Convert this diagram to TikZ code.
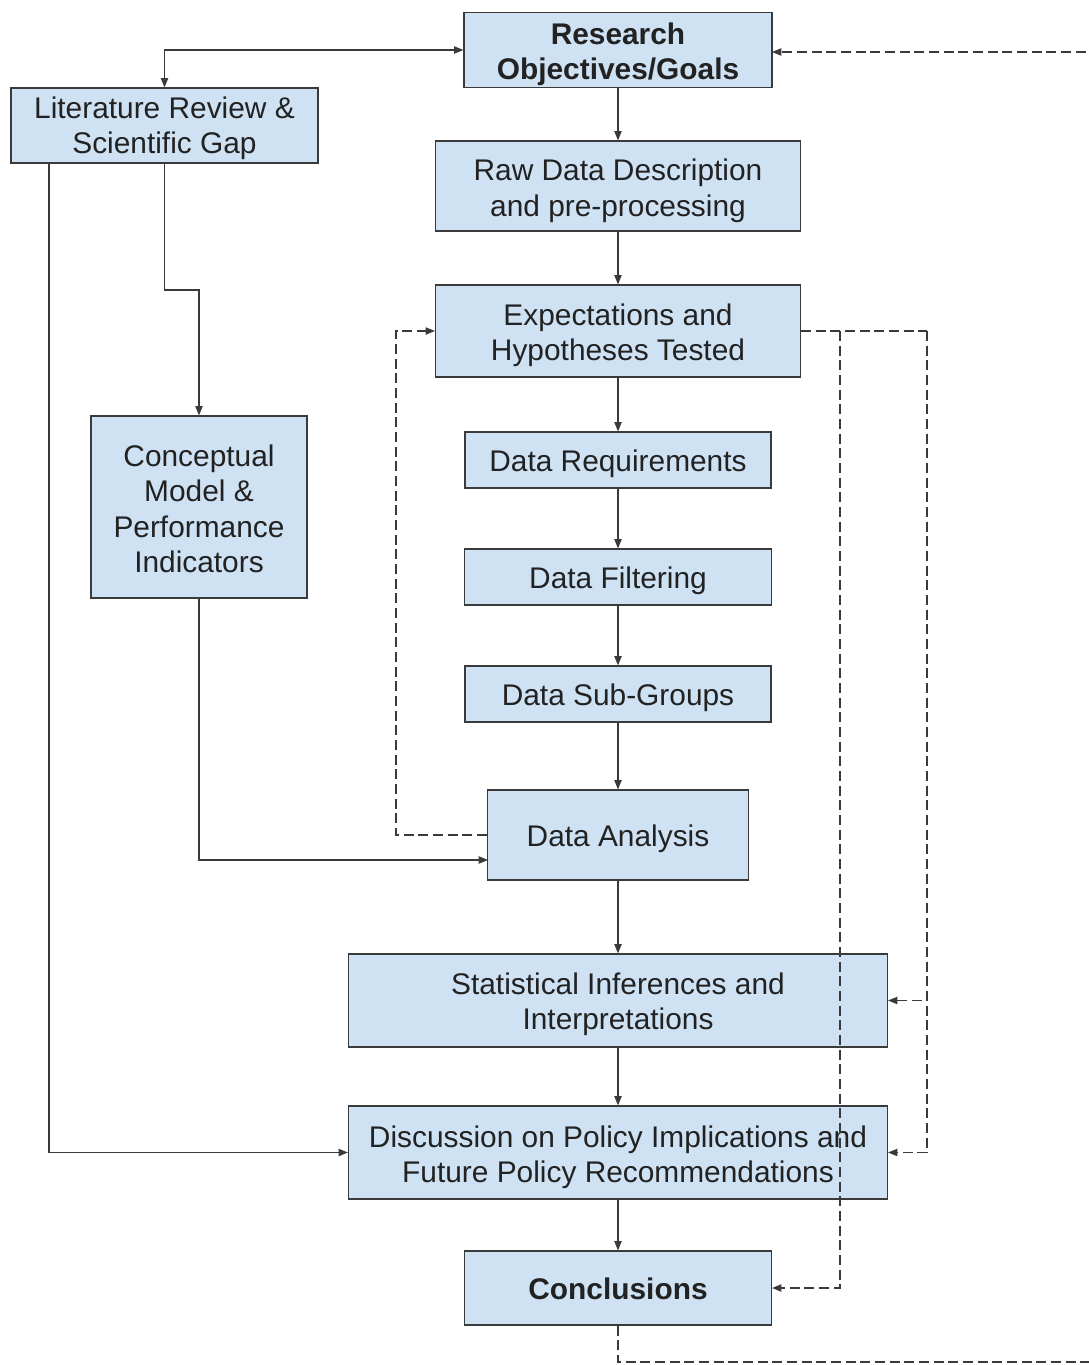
\documentclass[tikz,border=0pt]{standalone}
\usepackage{fontspec}
\setmainfont{Liberation Sans}
\usetikzlibrary{arrows.meta}
\definecolor{boxfill}{HTML}{CFE2F3}
\definecolor{boxline}{HTML}{3A3A3A}
\definecolor{txt}{HTML}{222222}
% \flowbox[text options]{name}{x}{y}{width}{height}{text drop}{text}
\newcommand\flowbox[8][]{%
  \node[box,minimum width=#5,minimum height=#6] (#2) at (#3,#4) {};
  \node[boxtext,#1] (#2-t) at ([yshift=-#7]#2.center) {#8};}
\begin{document}
\begin{tikzpicture}[x=0.75pt,y=-0.75pt,
  box/.style={draw=boxline,fill=boxfill,line width=0.9pt,inner sep=0pt},
  boxtext/.style={inner sep=0pt,align=center,text=txt,
    font=\fontsize{22.4}{26.6}\selectfont},
  bold/.style={font=\fontsize{22.4}{26.6}\selectfont\bfseries},
  tip/.style={-{Triangle[length=7pt,width=5.5pt]}},
  link/.style={draw=boxline,line width=0.8pt,tip},
  dlink/.style={link,dash pattern=on 7.5pt off 3.5pt}]
\clip (0,0) rectangle (1089,1365);
\fill[white] (0,0) rectangle (1089,1365);

% main chain
\flowbox[bold]{res}{618}{50}{231pt}{56.25pt}{3.4pt}{Research\\Objectives/Goals}
\flowbox{raw}{618}{186}{273.75pt}{67.5pt}{3.75pt}{Raw Data Description\\and pre-processing}
\flowbox{exp}{618}{331}{273.75pt}{69pt}{3.4pt}{Expectations and\\Hypotheses Tested}
\flowbox{req}{618}{460}{229.5pt}{42pt}{3pt}{Data Requirements}
\flowbox{fil}{618}{577}{230.25pt}{42pt}{3pt}{Data Filtering}
\flowbox{sub}{618}{694}{229.5pt}{42pt}{3pt}{Data Sub-Groups}
\flowbox{ana}{618}{835}{195.75pt}{67.5pt}{3pt}{Data Analysis}
\flowbox{sta}{618}{1000.5}{404.25pt}{69.75pt}{3pt}{Statistical Inferences and\\Interpretations}
\flowbox{dis}{618}{1152.5}{404.25pt}{69.75pt}{3.75pt}{Discussion on Policy Implications and\\Future Policy Recommendations}
\flowbox[bold]{con}{618}{1288}{230.25pt}{55.5pt}{0.8pt}{Conclusions}

% side column
\flowbox{lit}{164.5}{125.5}{230.25pt}{56.25pt}{2.25pt}{Literature Review \&\\Scientific Gap}
\flowbox{cm}{199}{507}{162pt}{136.5pt}{1.5pt}{Conceptual\\Model \&\\Performance\\Indicators}

% routing points
\coordinate (litL) at (49,163);
\coordinate (litBend) at (164.5,290);
\coordinate (anaIn) at (488,860);
\coordinate (fbL) at (396,835);
\coordinate (fbA) at (927,331);
\coordinate (fbB) at (840,331);
\coordinate (loopB) at (618,1362);
\coordinate (loopR) at (1110,1362);
\coordinate (resIn) at (772,52);

% solid connectors
\draw[link] (res) -- (raw);
\draw[link] (raw) -- (exp);
\draw[link] (exp) -- (req);
\draw[link] (req) -- (fil);
\draw[link] (fil) -- (sub);
\draw[link] (sub) -- (ana);
\draw[link] (ana) -- (sta);
\draw[link] (sta) -- (dis);
\draw[link] (dis) -- (con);
\draw[link,{Triangle[length=7pt,width=5.5pt]}-{Triangle[length=7pt,width=5.5pt]}] (lit.north) |- (res.west);
\draw[link] (litL) |- (dis.west);
\draw[link] (lit.south) -- (litBend) -| (cm.north);
\draw[link] (cm.south) |- (anaIn);

% dashed feedback connectors
\draw[dlink] (ana.west) -- (fbL) |- (exp.west);
\draw[dlink,-] (exp.east) -- (fbA);
\draw[dlink] (fbA) |- (sta.east);
\draw[dlink] (fbA) |- (dis.east);
\draw[dlink] (fbB) |- (con.east);
\draw[dlink] (con.south) -- (loopB) -- (loopR) |- (resIn);
\end{tikzpicture}
\end{document}
